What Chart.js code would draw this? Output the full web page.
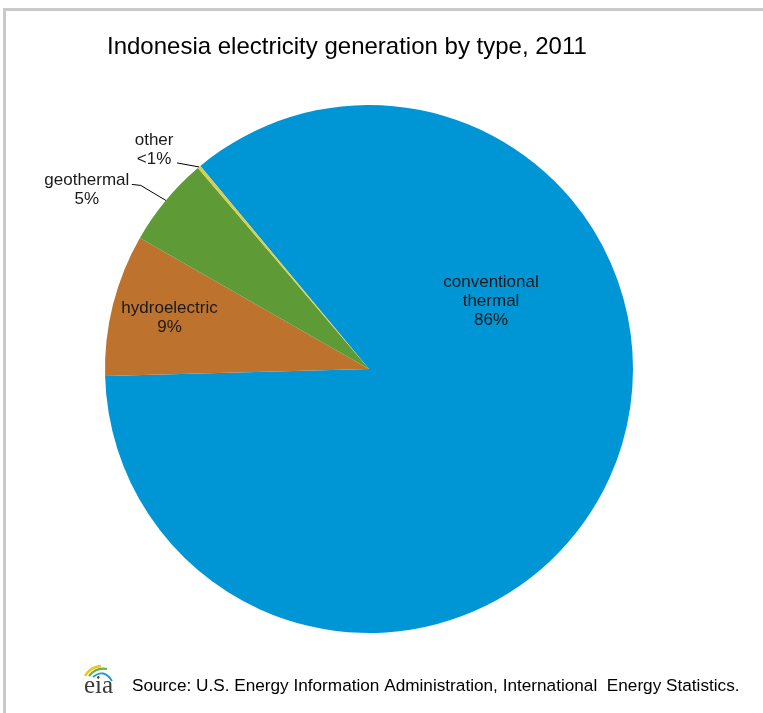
<!DOCTYPE html>
<html>
<head>
<meta charset="utf-8">
<script src="https://cdn.jsdelivr.net/npm/chart.js@4.4.1/dist/chart.umd.min.js"></script>
<style>
  html, body { margin: 0; padding: 0; background: #ffffff; }
  #wrap { position: relative; width: 763px; height: 713px; }
  canvas { display: block; }
</style>
</head>
<body>
<div id="wrap"><canvas id="c" width="763" height="713"></canvas></div>
<script>
// ---- data ----
const categories = ["conventional thermal", "hydroelectric", "geothermal", "other"];
const shares = [85.6, 8.7, 5.5, 0.2];
const labelLines = [["conventional", "thermal", "86%"], ["hydroelectric", "9%"], ["geothermal", "5%"], ["other", "<1%"]];
const titleText = "Indonesia electricity generation by type, 2011";
const sourceText = "Source: U.S. Energy Information Administration, International  Energy Statistics.";

// ---- styles ----
const sliceColors = ["#0096d6", "#bd722d", "#5e9a35", "#d8cf4e"];
const FONT = "'Liberation Sans', Arial, sans-serif";
// label placement: inside -> polar (deg, radius fraction); outside -> leader offsets from slice edge
const placement = [
  { type: "inside", angle: -29.1, frac: 0.529 },
  { type: "inside", angle: 194.4, frac: 0.78 },
  { type: "outside", elbow: [-25, -15], end: [-34, -16], text: [-79, -11] },
  { type: "outside", elbow: [-22, -4], end: [-22, -4], text: [-45, -17] }
];

const decor = {
  id: "decor",
  beforeDraw(chart) {
    const ctx = chart.ctx;
    ctx.save();
    ctx.fillStyle = "#ffffff";
    ctx.fillRect(0, 0, chart.width, chart.height);
    ctx.fillStyle = "#c9c9c9";
    ctx.fillRect(3, 8, chart.width - 3, 3);
    ctx.fillRect(3, 8, 3, chart.height - 8);
    ctx.restore();
  },
  afterDraw(chart) {
    const ctx = chart.ctx;
    const meta = chart.getDatasetMeta(0);
    ctx.save();
    // title
    ctx.fillStyle = "#000000";
    ctx.font = "24px " + FONT;
    ctx.textBaseline = "middle";
    ctx.textAlign = "left";
    ctx.fillText(titleText, 107, 47);

    // labels
    ctx.font = "17px " + FONT;
    ctx.fillStyle = "#1a1a1a";
    ctx.textAlign = "center";
    const lh = 19;
    meta.data.forEach((arc, i) => {
      const p = placement[i];
      const mid = (arc.startAngle + arc.endAngle) / 2;
      const lines = labelLines[i];
      if (p.type === "inside") {
        const a = p.angle * Math.PI / 180;
        const r = arc.outerRadius * p.frac;
        const cx = arc.x + Math.cos(a) * r;
        const cy = arc.y + Math.sin(a) * r;
        const y0 = cy - (lines.length - 1) * lh / 2;
        lines.forEach((t, k) => ctx.fillText(t, cx, y0 + k * lh));
      } else {
        const ex = arc.x + Math.cos(mid) * arc.outerRadius;
        const ey = arc.y + Math.sin(mid) * arc.outerRadius;
        ctx.strokeStyle = "#000000";
        ctx.lineWidth = 1;
        ctx.beginPath();
        ctx.moveTo(ex, ey);
        ctx.lineTo(ex + p.elbow[0], ey + p.elbow[1]);
        ctx.lineTo(ex + p.end[0], ey + p.end[1]);
        ctx.stroke();
        const tx = ex + p.text[0];
        const ty = ey + p.text[1];
        const y0 = ty - (lines.length - 1) * lh / 2;
        lines.forEach((t, k) => ctx.fillText(t, tx, y0 + k * lh));
      }
    });

    // source
    ctx.textAlign = "left";
    ctx.fillStyle = "#000000";
    ctx.font = "17.2px " + FONT;
    ctx.fillText(sourceText, 132, 686);

    // eia logo
    ctx.font = "25px 'Liberation Serif', 'DejaVu Serif', serif";
    ctx.fillStyle = "#3a3a3a";
    ctx.textBaseline = "alphabetic";
    ctx.fillText("eia", 84, 693);
    const swoosh = (color, x0, y0, cx, cy, x1, y1, w) => {
      ctx.strokeStyle = color; ctx.lineWidth = w;
      ctx.beginPath(); ctx.moveTo(x0, y0); ctx.quadraticCurveTo(cx, cy, x1, y1); ctx.stroke();
    };
    swoosh("#f2c318", 85, 676, 90, 667, 101, 666, 2.5);
    swoosh("#6bb33f", 89, 676, 96, 667, 107, 669, 2.2);
    swoosh("#1a9ad6", 93, 677, 104, 668, 112, 681, 1.8);
    ctx.restore();
  }
};

new Chart(document.getElementById("c"), {
  type: "pie",
  data: {
    labels: categories,
    datasets: [{
      data: shares,
      backgroundColor: sliceColors,
      borderWidth: 0
    }]
  },
  options: {
    responsive: false,
    animation: false,
    rotation: 320.3,
    layout: { padding: { left: 105, right: 130, top: 105, bottom: 80 } },
    plugins: { legend: { display: false }, tooltip: { enabled: false }, title: { display: false } }
  },
  plugins: [decor]
});
</script>
</body>
</html>
